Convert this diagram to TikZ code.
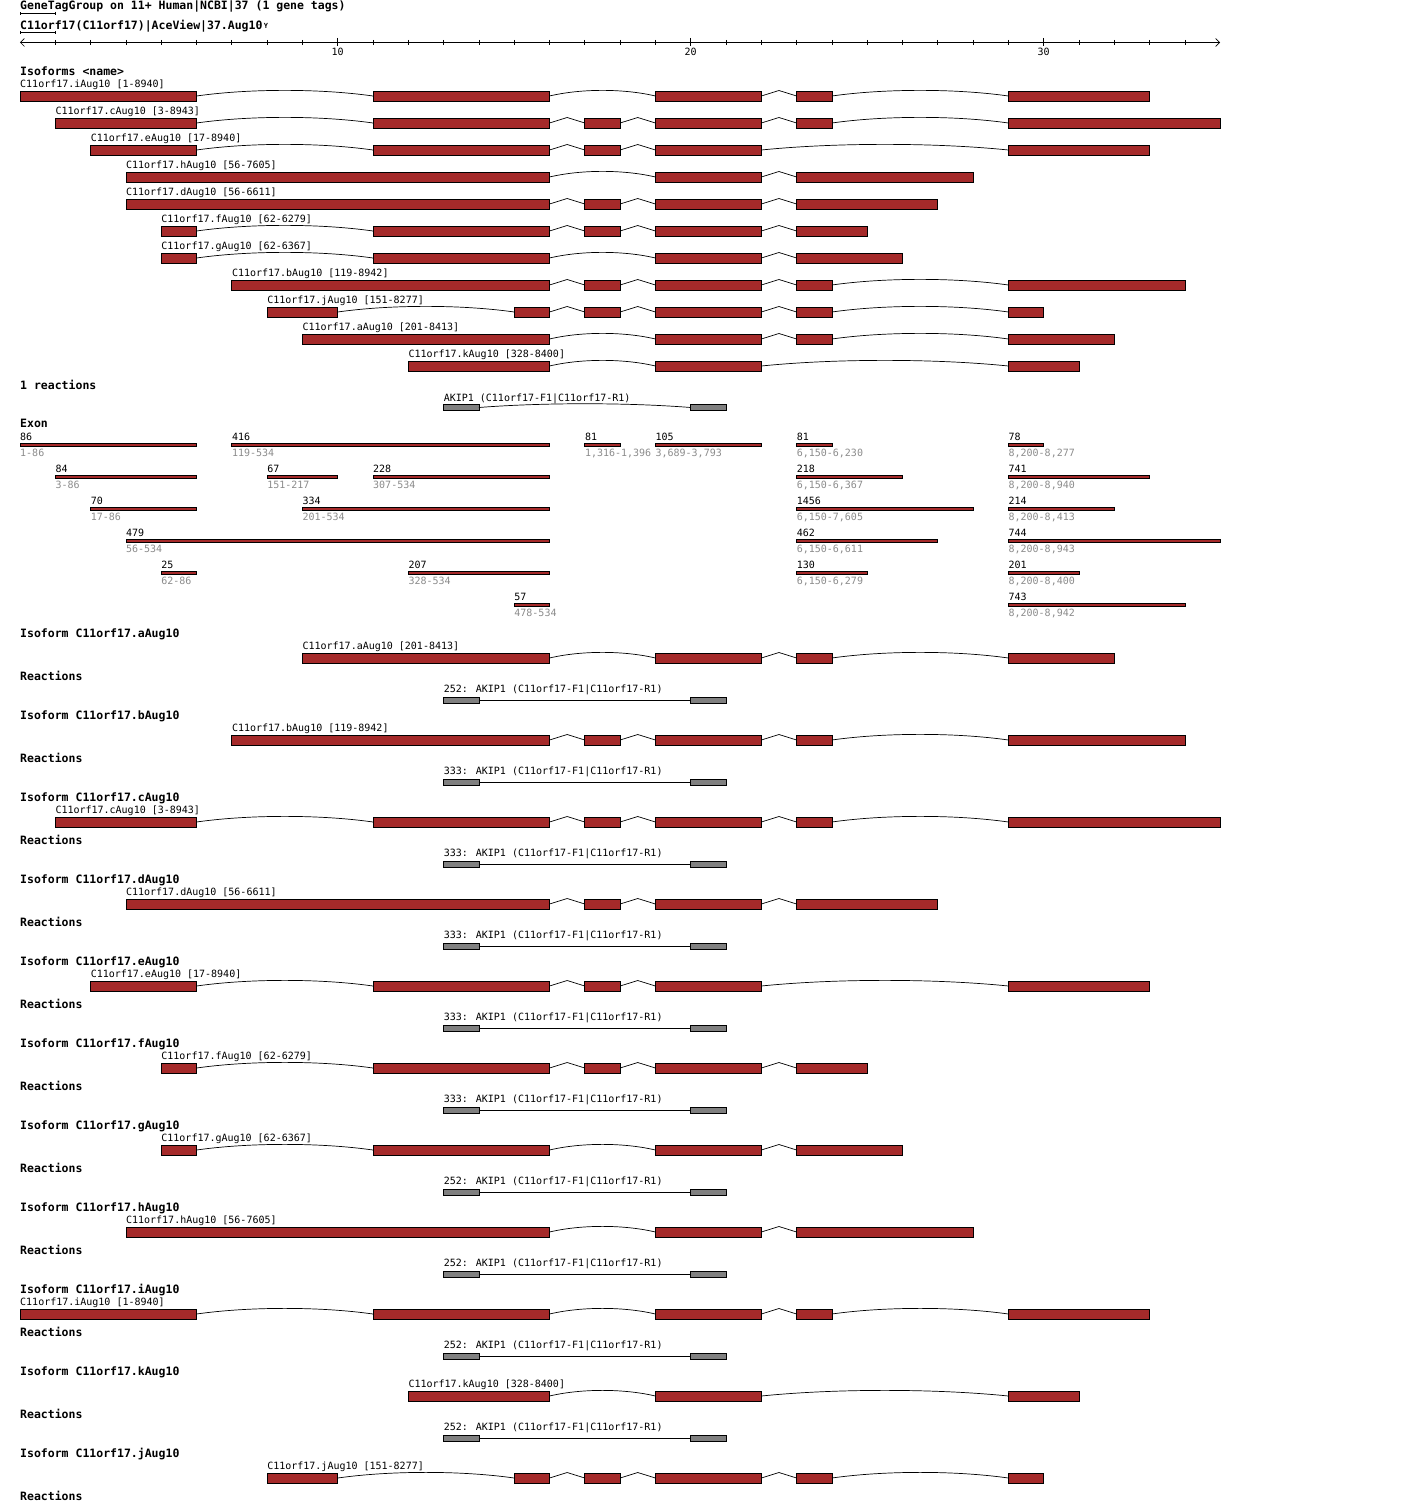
\documentclass[tikz,border=0pt]{standalone}
\usepackage{fontspec}
\newfontfamily\genefont{DejaVu Sans Mono}
\usetikzlibrary{positioning,calc,arrows.meta}

\definecolor{exonred}{RGB}{165,42,42}
\definecolor{boxgray}{RGB}{128,128,128}
\definecolor{rangegray}{RGB}{140,140,140}

\tikzset{
  txt/.style={font=\genefont\fontsize{10}{10}\selectfont, inner sep=0pt, anchor=base west},
  hdr/.style={font=\genefont\bfseries\fontsize{11.5}{11.5}\selectfont, inner sep=0pt, anchor=base west},
  rangetxt/.style={txt, text=rangegray},
  exon/.style={draw=black, fill=exonred, line width=0.8pt, inner sep=0pt, outer sep=0pt, minimum height=10.2pt, anchor=west},
  exonbar/.style={exon, line width=0.7pt, minimum height=3pt},
  rbox/.style={draw=black, fill=boxgray, line width=0.8pt, inner sep=0pt, outer sep=0pt, minimum width=35.3pt, minimum height=6pt, anchor=west},
  intron/.style={line width=0.7pt},
  linkbar/.style={line width=0.7pt, {Bar[width=3pt]}-{Bar[width=3pt]}},
  scaleaxis/.style={line width=0.7pt, <->, >={Straight Barb[length=4pt,width=8pt]}},
}

% one isoform: name prefix, text baseline, label, list of exon columns
\newcommand{\isorow}[4]{%
  \edef\exlist{#4}%
  \foreach \s/\e [count=\n, remember=\n as \m (initially 0), remember=\e as \pe (initially 0)] in \exlist {%
    \node[exon, minimum width={(\e-\s)*35.3pt}] (#1-\n) at (\s,{#2+9}) {};
    \ifnum\n=1 \node[txt] (#1-lbl) at (\s,{#2}) {#3}; \fi
    \ifnum\m>0
      \pgfmathtruncatemacro\gap{\s-\pe}
      \ifnum\gap=1
        \draw[intron] (#1-\m.east) -- ($(#1-\m.east)!0.5!(#1-\n.west)+(0,5.5pt)$) -- (#1-\n.west);
      \else
        \draw[intron] (#1-\m.east) .. controls ($(#1-\m.east)!0.3!(#1-\n.west)+(0,7.5pt)$) and ($(#1-\m.east)!0.7!(#1-\n.west)+(0,7.5pt)$) .. (#1-\n.west);
      \fi
    \fi
  }%
}

\begin{document}
\begin{tikzpicture}[x=35.3pt, y=-1pt]
\path[use as bounding box, fill=white] (-20pt,0pt) rectangle (1400pt,-1512pt);

% title lines
\node[hdr] (hdr1) at (0,10) {GeneTagGroup on 11+ Human|NCBI|37 (1 gene tags)};
\node[hdr] (hdr2) at (0,29.3) {C11orf17(C11orf17)|AceView|37.Aug10};
\node[font=\genefont\bfseries\fontsize{7}{7}\selectfont, inner sep=0pt, right=1pt of hdr2] (filt) {Y};
\draw[linkbar] (0,13.3) -- (1,13.3);
\draw[linkbar] (0,32.3) -- (1,32.3);

% scale
\coordinate (ax-l) at (0,42.5);
\coordinate (ax-r) at (34,42.5);
\draw[scaleaxis] (ax-l) -- (ax-r);
\foreach \k in {1,...,33} \draw[line width=0.7pt] (\k,40) -- (\k,45);
\foreach \k/\v in {9/10,19/20,29/30} {
  \draw[line width=0.7pt] (\k,38) -- (\k,46);
  \node[txt, anchor=base] (tick-\v) at (\k,55.3) {\v};
}

% isoforms
\node[hdr] (isohead) at (0,75) {Isoforms <name>};
\isorow{iso-i}{87}{C11orf17.iAug10 [1-8940]}{0/5,10/15,18/21,22/23,28/32}
\isorow{iso-c}{114}{C11orf17.cAug10 [3-8943]}{1/5,10/15,16/17,18/21,22/23,28/34}
\isorow{iso-e}{141}{C11orf17.eAug10 [17-8940]}{2/5,10/15,16/17,18/21,28/32}
\isorow{iso-h}{168}{C11orf17.hAug10 [56-7605]}{3/15,18/21,22/27}
\isorow{iso-d}{195}{C11orf17.dAug10 [56-6611]}{3/15,16/17,18/21,22/26}
\isorow{iso-f}{222}{C11orf17.fAug10 [62-6279]}{4/5,10/15,16/17,18/21,22/24}
\isorow{iso-g}{249}{C11orf17.gAug10 [62-6367]}{4/5,10/15,18/21,22/25}
\isorow{iso-b}{276}{C11orf17.bAug10 [119-8942]}{6/15,16/17,18/21,22/23,28/33}
\isorow{iso-j}{303}{C11orf17.jAug10 [151-8277]}{7/9,14/15,16/17,18/21,22/23,28/29}
\isorow{iso-a}{330}{C11orf17.aAug10 [201-8413]}{8/15,18/21,22/23,28/31}
\isorow{iso-k}{357}{C11orf17.kAug10 [328-8400]}{11/15,18/21,28/30}

% reactions
\node[hdr] (rxhead) at (0,389) {1 reactions};
\node[txt] (rx-lbl) at (12,401) {AKIP1 (C11orf17-F1|C11orf17-R1)};
\node[rbox] (rx-f) at (12,407.5) {};
\node[rbox] (rx-r) at (19,407.5) {};
\draw[intron] (rx-f.east) .. controls ($(rx-f.east)!0.3!(rx-r.west)+(0,5pt)$) and ($(rx-f.east)!0.7!(rx-r.west)+(0,5pt)$) .. (rx-r.west);

% exons
\node[hdr] (exhead) at (0,427.3) {Exon};
\foreach \s/\e/\r/\nb/\rg [count=\i] in {
  0/5/0/86/1-86, 6/15/0/416/119-534, 16/17/0/81/{1,316-1,396}, 18/21/0/105/{3,689-3,793},
  22/23/0/81/{6,150-6,230}, 28/29/0/78/{8,200-8,277},
  1/5/1/84/3-86, 7/9/1/67/151-217, 10/15/1/228/307-534, 22/25/1/218/{6,150-6,367}, 28/32/1/741/{8,200-8,940},
  2/5/2/70/17-86, 8/15/2/334/201-534, 22/27/2/1456/{6,150-7,605}, 28/31/2/214/{8,200-8,413},
  3/15/3/479/56-534, 22/26/3/462/{6,150-6,611}, 28/34/3/744/{8,200-8,943},
  4/5/4/25/62-86, 11/15/4/207/328-534, 22/24/4/130/{6,150-6,279}, 28/30/4/201/{8,200-8,400},
  14/15/5/57/478-534, 28/33/5/743/{8,200-8,942}} {
  \node[exonbar, minimum width={(\e-\s)*35.3pt}] (xb-\i) at (\s,{444.7+32*\r}) {};
  \node[txt] (xn-\i) at (\s,{440+32*\r}) {\nb};
  \node[rangetxt] (xr-\i) at (\s,{456+32*\r}) {\rg};
}

% one block per isoform
\foreach \iso/\rng/\ex/\rx [count=\sn from 0] in {
  a/{201-8413}/{8/15,18/21,22/23,28/31}/252,
  b/{119-8942}/{6/15,16/17,18/21,22/23,28/33}/333,
  c/{3-8943}/{1/5,10/15,16/17,18/21,22/23,28/34}/333,
  d/{56-6611}/{3/15,16/17,18/21,22/26}/333,
  e/{17-8940}/{2/5,10/15,16/17,18/21,28/32}/333,
  f/{62-6279}/{4/5,10/15,16/17,18/21,22/24}/333,
  g/{62-6367}/{4/5,10/15,18/21,22/25}/252,
  h/{56-7605}/{3/15,18/21,22/27}/252,
  i/{1-8940}/{0/5,10/15,18/21,22/23,28/32}/252,
  k/{328-8400}/{11/15,18/21,28/30}/252} {
  \node[hdr] (head-\iso) at (0,{637+82*\sn}) {Isoform C11orf17.\iso Aug10};
  \isorow{sec-\iso}{649+82*\sn}{C11orf17.\iso Aug10 [\rng]}{\ex}
  \node[hdr] (react-\iso) at (0,{680+82*\sn}) {Reactions};
  \node[txt] (rxl-\iso) at (12,{692.7+82*\sn}) {\rx: AKIP1 (C11orf17-F1|C11orf17-R1)};
  \node[rbox] (rxf-\iso) at (12,{700+82*\sn}) {};
  \node[rbox] (rxr-\iso) at (19,{700+82*\sn}) {};
  \draw[intron] (rxf-\iso) -- (rxr-\iso);
}

\node[hdr] (head-j) at (0,1457) {Isoform C11orf17.jAug10};
\isorow{sec-j}{1469}{C11orf17.jAug10 [151-8277]}{7/9,14/15,16/17,18/21,22/23,28/29}
\node[hdr] (react-j) at (0,1500) {Reactions};
\end{tikzpicture}
\end{document}
